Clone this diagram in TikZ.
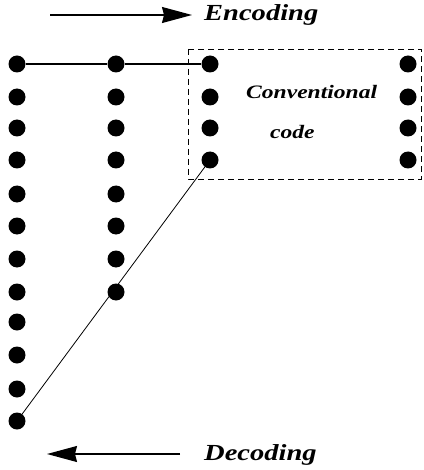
\documentclass[tikz,border=0pt]{standalone}
\usepackage{fontspec}
\setmainfont{Liberation Serif}
\newfontfamily\widefont[FakeStretch=1.24]{Liberation Serif}
\usetikzlibrary{arrows.meta}
\tikzset{
  dot/.style={circle,fill=black,inner sep=0pt,minimum size=17pt},
  lbl/.style={inner sep=0pt,font=\widefont\fontsize{23}{26}\selectfont\bfseries\itshape},
  boxlbl/.style={inner sep=0pt,font=\widefont\fontsize{19}{22}\selectfont\bfseries\itshape},
  bigarrow/.style={line width=1.3pt,-{Stealth[length=30pt,width=16pt,inset=2pt]}},
}
\begin{document}
\begin{tikzpicture}[x=1pt,y=-1pt]
\useasboundingbox (0,0) rectangle (423,470);
% column 1
\foreach \y [count=\i] in {64,97,128,160,194,226,259,292,322,355,389,421}
  \node[dot] (a\i) at (17,\y) {};
% column 2
\foreach \y [count=\i] in {64,97,128,160,194,226,259,292}
  \node[dot] (b\i) at (116,\y) {};
% column 3
\foreach \y [count=\i] in {64,97,128,160}
  \node[dot] (c\i) at (210,\y) {};
% column 4
\foreach \y [count=\i] in {64,97,128,160}
  \node[dot] (d\i) at (408,\y) {};
% dashed box
\draw[dashed,line width=0.9pt,dash pattern=on 6pt off 4pt] (188,49) rectangle (421,179);
\node[boxlbl,anchor=west] (conv) at (246,92) {Conventional};
\node[boxlbl,anchor=west] (code) at (270,132) {code};
% connectors
\draw[line width=1.2pt] (a1) -- (b1) -- (c1);
\draw[line width=0.8pt] (c4.center) -- (a12.center);
% arrows
\coordinate (e0) at (50,15);
\coordinate (e1) at (192,15);
\draw[bigarrow] (e0) -- (e1);
\node[lbl,anchor=west] (enc) at (204,15) {Encoding};
\coordinate (d0) at (180,454);
\coordinate (d1) at (47,454);
\draw[bigarrow] (d0) -- (d1);
\node[lbl,anchor=west] (dec) at (204,455) {Decoding};
\end{tikzpicture}
\end{document}
